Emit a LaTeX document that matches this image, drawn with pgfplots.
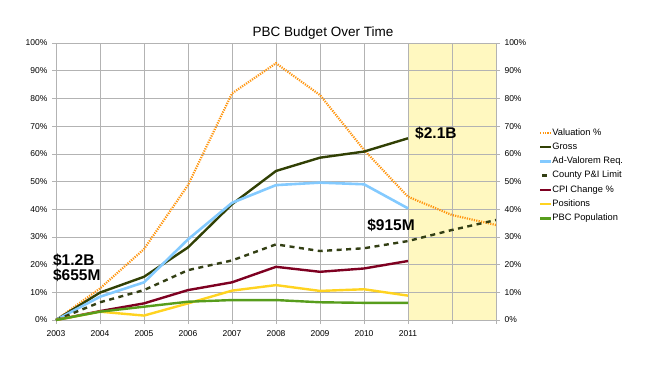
\documentclass[border=0pt]{standalone}
\usepackage{pgfplots}
\pgfplotsset{compat=1.18}
\usepackage{fontspec}
\setmainfont{Liberation Sans}
\definecolor{gridc}{HTML}{B3B3B3}
\definecolor{valc}{HTML}{FF950E}
\definecolor{grossc}{HTML}{314004}
\definecolor{advc}{HTML}{83CAFF}
\definecolor{pic}{HTML}{333F14}
\definecolor{cpic}{HTML}{7E0021}
\definecolor{posc}{HTML}{FFD320}
\definecolor{popc}{HTML}{579D1C}
\definecolor{shade}{HTML}{FFF8C0}
\pgfplotsset{shortdash legend/.style={legend image code/.code={\draw[##1, solid] (2pt,0pt) -- (7pt,0pt);}}}
\begin{document}
\begin{tikzpicture}
\path[use as bounding box] (0pt,0pt) rectangle (650pt,365pt);
\node[font=\fontsize{13.5}{15}\selectfont] at (323pt,332pt) {PBC Budget Over Time};
\begin{axis}[
  scale only axis,
  width=440pt, height=277pt,
  at={(56pt,45pt)}, anchor=south west,
  xmin=0, xmax=10, ymin=0, ymax=100,
  hide axis,
]
\addplot[fill=shade, draw=none] coordinates {(8,0) (8,100) (10,100) (10,0)} -- cycle;
\end{axis}
\begin{axis}[
  scale only axis,
  width=440pt, height=277pt,
  at={(56pt,45pt)}, anchor=south west,
  xmin=0, xmax=10, ymin=0, ymax=100,
  xtick={0,1,2,3,4,5,6,7,8,9,10},
  xticklabels={2003,2004,2005,2006,2007,2008,2009,2010,2011,,},
  ytick={0,10,20,30,40,50,60,70,80,90,100},
  yticklabels={0\%,10\%,20\%,30\%,40\%,50\%,60\%,70\%,80\%,90\%,100\%},
  grid=major,
  grid style={gridc, line width=0.6pt},
  axis line style={gridc, line width=0.6pt},
  tick style={gridc, line width=0.6pt},
  major tick length=4pt,
  tick align=outside,
  xtick pos=bottom, ytick pos=left,
  ticklabel style={font=\fontsize{8.5}{10}\selectfont},
  xticklabel style={yshift=-3pt},
  yticklabel style={xshift=-1pt},
  clip=false,
  legend cell align=left,
  legend style={at={(1.09,0.701)}, anchor=north west, draw=none, fill=none,
    font=\fontsize{9.3}{11}\selectfont, row sep=5.1pt,
    nodes={inner sep=0pt, text height=7pt, text depth=2.2pt}},
  legend image code/.code={\draw[#1] (0pt,0pt) -- (11pt,0pt);},
]
\addplot[valc, line width=2.2pt, dash pattern=on 1.2pt off 1.2pt] coordinates {
(0,0) (1,11.4) (2,25.6) (3,48.7) (4,81.8) (5,92.7) (6,81.2) (7,61.4) (8,44.5) (9,37.9) (10,34.3)};
\addlegendentry{Valuation \%}
\addplot[grossc, line width=2.4pt] coordinates {
(0,0) (1,9.9) (2,15.6) (3,26.2) (4,41.8) (5,53.8) (6,58.6) (7,60.8) (8,65.6)};
\addlegendentry{Gross}
\addplot[advc, line width=2.6pt] coordinates {
(0,0) (1,8.4) (2,13.6) (3,29.1) (4,42.3) (5,48.7) (6,49.6) (7,49.0) (8,40.3)};
\addlegendentry{Ad-Valorem Req.}
\addplot[pic, line width=2.4pt, dash pattern=on 5pt off 4.5pt, shortdash legend] coordinates {
(0,0) (1,6.4) (2,10.8) (3,18.0) (4,21.5) (5,27.3) (6,24.9) (7,25.9) (8,28.5) (9,32.5) (10,36.1)};
\addlegendentry{County P\&I Limit}
\addplot[cpic, line width=2.4pt] coordinates {
(0,0) (1,3.2) (2,6.0) (3,10.8) (4,13.6) (5,19.2) (6,17.4) (7,18.6) (8,21.3)};
\addlegendentry{CPI Change \%}
\addplot[posc, line width=2.4pt] coordinates {
(0,0) (1,3.0) (2,1.6) (3,6.0) (4,10.6) (5,12.6) (6,10.5) (7,11.1) (8,8.8)};
\addlegendentry{Positions}
\addplot[popc, line width=2.4pt] coordinates {
(0,0) (1,3.0) (2,4.8) (3,6.6) (4,7.2) (5,7.2) (6,6.4) (7,6.2) (8,6.2)};
\addlegendentry{PBC Population}
\node[anchor=west, font=\bfseries\fontsize{15.5}{17}\selectfont, inner sep=0pt] at (axis cs:-0.07,21.7) {\$1.2B};
\node[anchor=west, font=\bfseries\fontsize{15.5}{17}\selectfont, inner sep=0pt] at (axis cs:-0.07,16.2) {\$655M};
\node[anchor=west, font=\bfseries\fontsize{15.5}{17}\selectfont, inner sep=0pt] at (axis cs:8.16,67.5) {\$2.1B};
\node[anchor=west, font=\bfseries\fontsize{15.5}{17}\selectfont, inner sep=0pt] at (axis cs:7.07,34.3) {\$915M};
\end{axis}
\begin{axis}[
  scale only axis,
  width=440pt, height=277pt,
  at={(56pt,45pt)}, anchor=south west,
  xmin=0, xmax=10, ymin=0, ymax=100,
  axis x line=none,
  axis y line*=right,
  ytick={0,10,20,30,40,50,60,70,80,90,100},
  yticklabels={0\%,10\%,20\%,30\%,40\%,50\%,60\%,70\%,80\%,90\%,100\%},
  axis line style={gridc, line width=0.6pt},
  tick style={gridc, line width=0.6pt},
  major tick length=4pt,
  tick align=outside,
  ticklabel style={font=\fontsize{8.5}{10}\selectfont},
  yticklabel style={xshift=1pt},
]
\addplot[draw=none] coordinates {(0,0) (10,100)};
\end{axis}
\end{tikzpicture}
\end{document}
